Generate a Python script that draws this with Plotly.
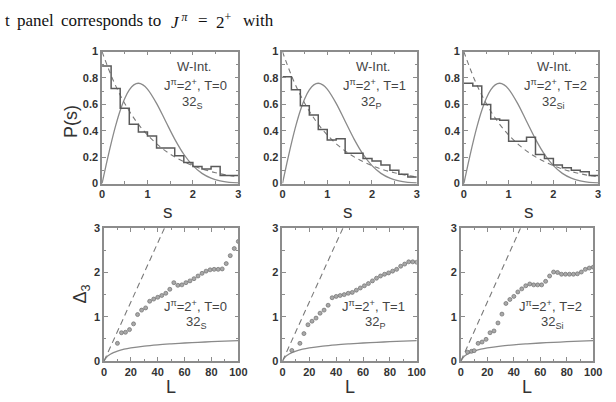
import plotly.graph_objects as go

W, H = 616, 402

# ---------------- data ----------------
bin_edges = [0.0, 0.2, 0.4, 0.6, 0.8, 1.0, 1.2, 1.4, 1.6, 1.8, 2.0, 2.2, 2.4, 2.6, 2.8, 3.0]
hist_S = [0.89, 0.72, 0.57, 0.45, 0.39, 0.36, 0.27, 0.27, 0.21, 0.16, 0.13, 0.11, 0.13, 0.06, 0.06]
hist_P = [0.81, 0.71, 0.59, 0.52, 0.41, 0.33, 0.34, 0.23, 0.23, 0.19, 0.17, 0.14, 0.10, 0.07, 0.05]
hist_Si = [0.76, 0.74, 0.60, 0.49, 0.48, 0.32, 0.32, 0.35, 0.22, 0.19, 0.14, 0.12, 0.10, 0.09, 0.06]

wig_s = [0, 0.1, 0.2, 0.3, 0.4, 0.5, 0.6, 0.7, 0.8, 0.9, 1.0, 1.2, 1.4, 1.6, 1.8, 2.0, 2.2, 2.4, 2.6, 2.8, 3.0]
wig_p = [0, 0.156, 0.305, 0.439, 0.554, 0.645, 0.710, 0.748, 0.760, 0.748, 0.716, 0.608, 0.472, 0.337,
         0.222, 0.136, 0.077, 0.041, 0.020, 0.009, 0.004]
poi_s = [0, 0.25, 0.5, 0.75, 1.0, 1.25, 1.5, 1.75, 2.0, 2.25, 2.5, 2.75, 3.0]
poi_p = [1.0, 0.779, 0.607, 0.472, 0.368, 0.287, 0.223, 0.174, 0.135, 0.105, 0.082, 0.064, 0.050]

goe_L = [0, 1, 2, 3, 5, 7, 10, 15, 20, 30, 40, 50, 60, 70, 80, 90, 100]
goe_d = [0, 0.05, 0.09, 0.12, 0.16, 0.19, 0.226, 0.268, 0.297, 0.338, 0.367, 0.389, 0.408, 0.423,
         0.437, 0.449, 0.460]
poiL_L = [0, 45]
poiL_d = [0, 3]

d3_S_L = [10, 13, 16, 19, 22, 25, 28, 31, 34, 37, 40, 43, 46, 49, 52, 55, 58, 61, 64, 67, 70, 73,
          76, 79, 82, 85, 88, 91, 94, 97, 100]
d3_S = [0.40, 0.64, 0.65, 0.71, 0.84, 1.05, 1.15, 1.20, 1.35, 1.40, 1.44, 1.48, 1.53, 1.62, 1.77,
        1.71, 1.72, 1.77, 1.81, 1.86, 1.92, 1.98, 2.03, 2.06, 2.07, 2.07, 2.08, 2.20, 2.38, 2.54, 2.70]

d3_P_L = [7, 13, 16, 19, 22, 25, 28, 31, 34, 37, 40, 43, 46, 49, 52, 55, 58, 61, 64, 67, 70, 73, 76,
          79, 82, 85, 88, 91, 94, 97, 100]
d3_P = [0.24, 0.40, 0.62, 0.82, 0.90, 0.97, 1.08, 1.15, 1.26, 1.43, 1.46, 1.48, 1.50, 1.53, 1.55,
        1.60, 1.65, 1.70, 1.75, 1.81, 1.87, 1.92, 1.96, 1.99, 2.03, 2.07, 2.14, 2.19, 2.24, 2.24, 2.23]

d3_Si_L = [5, 8, 10, 13, 16, 19, 22, 25, 28, 31, 34, 37, 40, 43, 46, 49, 52, 55, 58, 61, 64, 67, 70,
           73, 76, 79, 82, 85, 88, 91, 94, 97, 100]
d3_Si = [0.20, 0.22, 0.235, 0.40, 0.43, 0.49, 0.64, 0.68, 0.86, 1.06, 1.30, 1.39, 1.46, 1.56, 1.63,
         1.70, 1.74, 1.72, 1.72, 1.72, 1.80, 1.92, 2.01, 2.00, 1.96, 1.96, 1.96, 1.96, 1.97, 2.01,
         2.07, 2.10, 2.12]

panel_T = ["T=0", "T=1", "T=2"]
panel_nuc = ["32<sub>S</sub>", "32<sub>P</sub>", "32<sub>Si</sub>"]
hists = [hist_S, hist_P, hist_Si]
d3_L = [d3_S_L, d3_P_L, d3_Si_L]
d3_v = [d3_S, d3_P, d3_Si]

# ---------------- layout geometry (pixels) ----------------
top_x = [(101, 240), (285, 422), (470, 607)]
bot_x = [(103, 240), (285, 422), (467, 602)]
top_y = (47, 183)
bot_y = (229, 366)


def xd(a, b):
    return [a / W, b / W]


def yd(a, b):
    return [1 - b / H, 1 - a / H]


FRAME = "#8c8c8c"
TICKC = "#8c8c8c"
TFONT = dict(family="Liberation Sans", size=11, color="#333333", weight=700)
TXT = dict(family="Liberation Sans", size=13, color="#444444")

fig = go.Figure()
layout = dict(width=W, height=H, margin=dict(l=0, r=0, t=0, b=0), paper_bgcolor="white",
              plot_bgcolor="white", showlegend=False)
annotations = []


def axis_common():
    return dict(showline=True, linecolor=FRAME, linewidth=1.5, mirror="ticks", ticks="inside",
                ticklen=4, tickwidth=1, tickcolor=TICKC, showgrid=False, zeroline=False,
                tickfont=TFONT, fixedrange=True)


def pann(px, py, text, font, **kw):
    d = dict(x=px / W, y=1 - py / H, xref="paper", yref="paper", text=text, showarrow=False,
             xanchor="center", yanchor="middle", font=font)
    d.update(kw)
    return d


for i in range(3):
    # top panel
    n = i + 1
    xa = "x" if n == 1 else f"x{n}"
    ya = "y" if n == 1 else f"y{n}"
    hx = bin_edges
    hy = hists[i] + [hists[i][-1]]
    fig.add_trace(go.Scatter(x=wig_s, y=wig_p, mode="lines", line=dict(color="#8a8a8a", width=1.3,
                             shape="spline"), xaxis=xa, yaxis=ya))
    fig.add_trace(go.Scatter(x=poi_s, y=poi_p, mode="lines", line=dict(color="#7a7a7a", width=1.1,
                             dash="5px,4px", shape="spline"), xaxis=xa, yaxis=ya))
    fig.add_trace(go.Scatter(x=hx, y=hy, mode="lines", line=dict(color="#5a5a5a", width=1.5,
                             shape="hv"), xaxis=xa, yaxis=ya))
    ax = axis_common()
    ax.update(domain=xd(*top_x[i]), range=[0, 3], dtick=1, tick0=0, anchor=ya,
              minor=dict(dtick=0.5, ticklen=2.5, ticks="inside", tickcolor=TICKC))
    ay = axis_common()
    ay.update(domain=yd(*top_y), range=[0, 1], dtick=0.2, tick0=0, anchor=xa,
              minor=dict(dtick=0.1, ticklen=2.5, ticks="inside", tickcolor=TICKC))
    layout["xaxis" if n == 1 else f"xaxis{n}"] = ax
    layout["yaxis" if n == 1 else f"yaxis{n}"] = ay
    annotations += [
        dict(x=2.02, y=0.885, xref=xa, yref=ya, text="W-Int.", showarrow=False, font=TXT),
        dict(x=2.05, y=0.745, xref=xa, yref=ya, text="J<sup>π</sup>=2<sup>+</sup>, " + panel_T[i],
             showarrow=False, font=TXT),
        dict(x=2.0, y=0.615, xref=xa, yref=ya, text=panel_nuc[i], showarrow=False, font=TXT),
    ]
    cx = (top_x[i][0] + top_x[i][1]) / 2 - 2
    annotations.append(pann(cx, 212, "s", dict(family="Liberation Sans", size=19, color="#333333")))

    # bottom panel
    m = i + 4
    xb = f"x{m}"
    yb = f"y{m}"
    fig.add_trace(go.Scatter(x=goe_L, y=goe_d, mode="lines", line=dict(color="#8a8a8a", width=1.3,
                             shape="spline"), xaxis=xb, yaxis=yb))
    fig.add_trace(go.Scatter(x=poiL_L, y=poiL_d, mode="lines", line=dict(color="#7a7a7a", width=1.1,
                             dash="6px,4px"), xaxis=xb, yaxis=yb))
    fig.add_trace(go.Scatter(x=d3_L[i], y=d3_v[i], mode="markers",
                             marker=dict(size=4, color="#a8a8a8", line=dict(color="#6f6f6f", width=0.7)),
                             xaxis=xb, yaxis=yb))
    bx = axis_common()
    bx.update(domain=xd(*bot_x[i]), range=[0, 100], dtick=20, tick0=0, anchor=yb,
              minor=dict(dtick=10, ticklen=2.5, ticks="inside", tickcolor=TICKC))
    by = axis_common()
    by.update(domain=yd(*bot_y), range=[0, 3], dtick=1, tick0=0, anchor=xb,
              minor=dict(dtick=0.5, ticklen=2.5, ticks="inside", tickcolor=TICKC))
    layout[f"xaxis{m}"] = bx
    layout[f"yaxis{m}"] = by
    annotations += [
        dict(x=68, y=1.24, xref=xb, yref=yb, text="J<sup>π</sup>=2<sup>+</sup>, " + panel_T[i],
             showarrow=False, font=TXT),
        dict(x=69, y=0.86, xref=xb, yref=yb, text=panel_nuc[i], showarrow=False, font=TXT),
    ]
    cxb = (bot_x[i][0] + bot_x[i][1]) / 2
    annotations.append(pann(cxb, 393, "L", dict(family="Liberation Sans", size=18, color="#333333")))

# y axis titles
annotations.append(pann(70, 119, "P(s)", dict(family="Liberation Sans", size=18, color="#333333"),
                        textangle=-90))
annotations.append(pann(80, 297, "Δ<sub>3</sub>", dict(family="Liberation Sans", size=18,
                                                       color="#333333"), textangle=-90))

# header text line
SER = dict(family="Liberation Serif", size=17, color="#111111")
header = [(0, "t"), (12, "panel"), (57, "corresponds"), (146, "to"),
          (169, "<i>J</i><sup> <i>π</i></sup>"), (197, "="), (215, "2<sup>+</sup>"), (243, "with")]
for px, t in header:
    annotations.append(pann(px, 15, t, SER, xanchor="left"))

layout["annotations"] = annotations
fig.update_layout(**layout)
fig.write_html("out.html")
